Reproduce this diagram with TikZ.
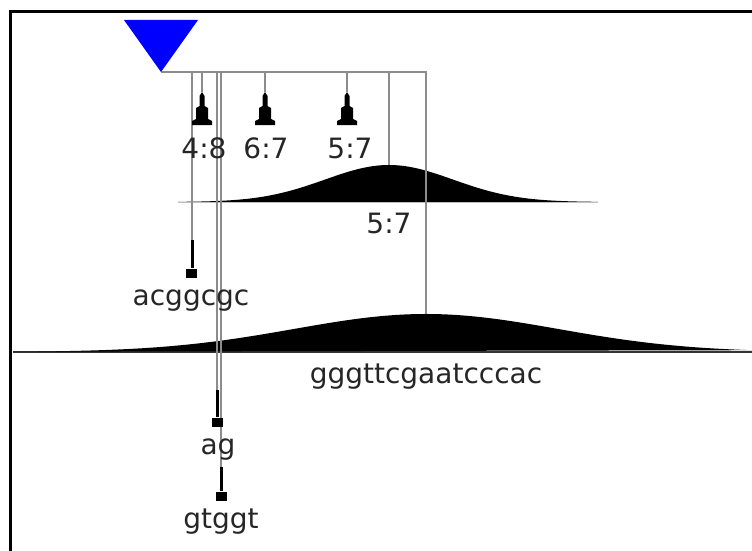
\documentclass[tikz,border=0pt]{standalone}
\usepackage{fontspec}
\setmainfont{DejaVu Sans}
\begin{document}
\begin{tikzpicture}[x=1pt,y=-1pt,
  conn/.style={draw=black!45, line width=1.1pt},
  base/.style={draw=black!25, line width=0.8pt},
  bigbase/.style={draw=black!80, line width=1.6pt},
  stubline/.style={draw=black, line width=3pt},
  sq/.style={rectangle, fill=black, draw=none, minimum width=11pt, minimum height=9pt, inner sep=0pt},
  lbl/.style={font=\fontsize{28}{30}\selectfont, inner sep=0pt, anchor=base, text=black!85},
  hump/.style={fill=black},
  pics/tower/.style={code={\fill (0,0) -- (-2.5,4) -- (-2.5,14) -- (-6,16) -- (-6,27) -- (-10,29) -- (-10,33) -- (10,33) -- (10,29) -- (6,27) -- (6,16) -- (2.5,14) -- (2.5,4) -- cycle;}}
]
\useasboundingbox (0,0) rectangle (752,551);
% frame
\draw[line width=3pt] (752,12) -- (10,12) -- (10,551);

% baselines and humps
\draw[base] (178,202) -- (598,202);
\fill[hump] plot[domain=178:598, samples=160] (\x, {202 - 37*exp(-((\x-389)/64)^2/2)}) -- cycle;
\draw[bigbase] (13,352) -- (752,352);
\fill[hump] plot[domain=13:752, samples=220] (\x, {352 - 38*exp(-((\x-426)/132)^2/2)}) -- cycle;

% coordinates
\coordinate (apex) at (161,72);
\coordinate (barR) at (426,72);
\coordinate (bigpeak) at (426,314);
\coordinate (t389) at (389,72);
\coordinate (smallpeak) at (389,165);
\coordinate (t192) at (192,72);
\coordinate (s1top) at (192,240);
\coordinate (t202) at (202,72);
\coordinate (m1) at (202,92);
\coordinate (t265) at (265,72);
\coordinate (m2) at (265,92);
\coordinate (t347) at (347,72);
\coordinate (m3) at (347,92);
\coordinate (t217) at (217,72);
\coordinate (s2top) at (217,390);
\coordinate (t221) at (221,72);
\coordinate (s3top) at (221,467);

% connectors
\draw[conn] (apex) -- (barR) -- (bigpeak);
\draw[conn] (t389) -- (smallpeak);
\draw[conn] (t192) -- (s1top);
\draw[conn] (t202) -- (m1);
\draw[conn] (t265) -- (m2);
\draw[conn] (t347) -- (m3);
\draw[conn] (t217) -- (s2top);
\draw[conn] (t221) -- (s3top);

% triangle
\fill[blue] (124,20) -- (198,20) -- (apex) -- cycle;

% towers
\pic at (m1) {tower};
\pic at (m2) {tower};
\pic at (m3) {tower};

% stubs
\node[sq] (sq1) at (191,273) {};
\draw[stubline] (s1top) -- (sq1.north -| s1top);
\node[sq] (sq2) at (217,422) {};
\draw[stubline] (s2top) -- (sq2.north);
\node[sq] (sq3) at (221,496) {};
\draw[stubline] (s3top) -- (sq3.north);

% labels
\node[lbl] (l48) at (204,158) {4:8};
\node[lbl] (l67) at (266,158) {6:7};
\node[lbl] (l57a) at (350,158) {5:7};
\node[lbl] (l57b) at (389,233) {5:7};
\node[lbl] (lac) at (191,305) {acggcgc};
\node[lbl] (lgg) at (426,383) {gggttcgaatcccac};
\node[lbl] (lag) at (218,454) {ag};
\node[lbl] (lgt) at (221,528) {gtggt};
\end{tikzpicture}
\end{document}
